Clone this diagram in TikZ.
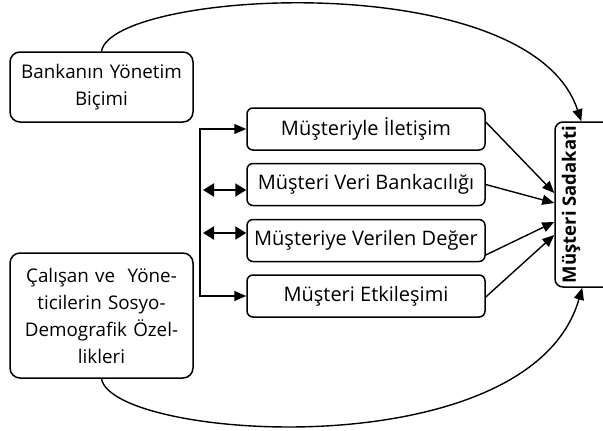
\documentclass[tikz,border=0pt]{standalone}
\usepackage{fontspec}
\setmainfont{Open Sans}
\usetikzlibrary{arrows.meta,calc}
\begin{document}
\begin{tikzpicture}[x=1pt,y=-1pt]
\tikzset{
 bigbox/.style={draw, rounded corners=10pt, line width=1.5pt, align=center, font=\fontsize{18.8}{27}\selectfont, minimum width=183pt, text width=180pt, inner sep=0pt},
 smallbox/.style={draw, rounded corners=6pt, line width=1.5pt, minimum width=238pt, minimum height=42pt, font=\fontsize{20}{22}\selectfont, inner sep=0pt},
 arr/.style={-{Triangle[length=12pt,width=10pt]}, line width=1.4pt},
 dbl/.style={{Triangle[length=11pt,width=13pt]}-{Triangle[length=11pt,width=13pt]}, line width=2pt},
}
\useasboundingbox (0,0) rectangle (603,431);
\node[bigbox, minimum height=70pt] (B1) at (101.5,87) {Bankanın Yönetim\\Biçimi};
\node[bigbox, minimum height=125pt] (B2) at (101.5,315.5) {Çalışan ve~ Yöne-\\ticilerin Sosyo-\\Demografik Özel-\\likleri};
\node[smallbox] (M1) at (366,129) {Müşteriyle İletişim};
\node[smallbox] (M2) at (366,184.5) {Müşteri Veri Bankacılığı};
\node[smallbox] (M3) at (366,240.5) {Müşteriye Verilen Değer};
\node[smallbox] (M4) at (366,296) {Müşteri Etkileşimi};
\node[draw, rounded corners=8pt, line width=1.5pt, minimum width=85pt, minimum height=165pt, inner sep=0pt] (S) at (597.5,204.5) {};
\node[rotate=90, font=\fontsize{18.5}{20}\selectfont\bfseries] (St) at (571,204.5) {Müşteri Sadakati};
% bracket
\coordinate (bx) at (200,212);
\draw[{Triangle[length=12pt,width=10pt]}-{Triangle[length=12pt,width=10pt]}, line width=1.4pt] (M1.west) -| (bx) |- (M4.west);
\coordinate (d2) at (203,190);
\coordinate (d3) at (203,233);
\draw[dbl] (d2) -- (d2 -| M2.west);
\draw[dbl] (d3) -- (d3 -| M3.west);
% into S
\draw[arr] ($(M1.east)+(0,-7)$) -- ($(S.west)+(0,-11.5)$);
\draw[arr] (M2.east) -- ($(S.west)+(0,-1.5)$);
\draw[arr] ($(M3.east)+(0,14.5)$) -- ($(S.west)+(0,17.5)$);
\draw[arr] ($(M4.east)+(0,1)$) -- ($(S.west)+(0,30.5)$);
% curves
\coordinate (tt) at ($(S.north west)+(27,0)$);
\coordinate (tb) at ($(S.south west)+(28,0)$);
\draw[arr] (B1.north) .. controls (112,-10) and (530,-35) .. (tt);
\draw[arr] (B2.south) .. controls (112,440) and (530,470) .. (tb);
\end{tikzpicture}
\end{document}
